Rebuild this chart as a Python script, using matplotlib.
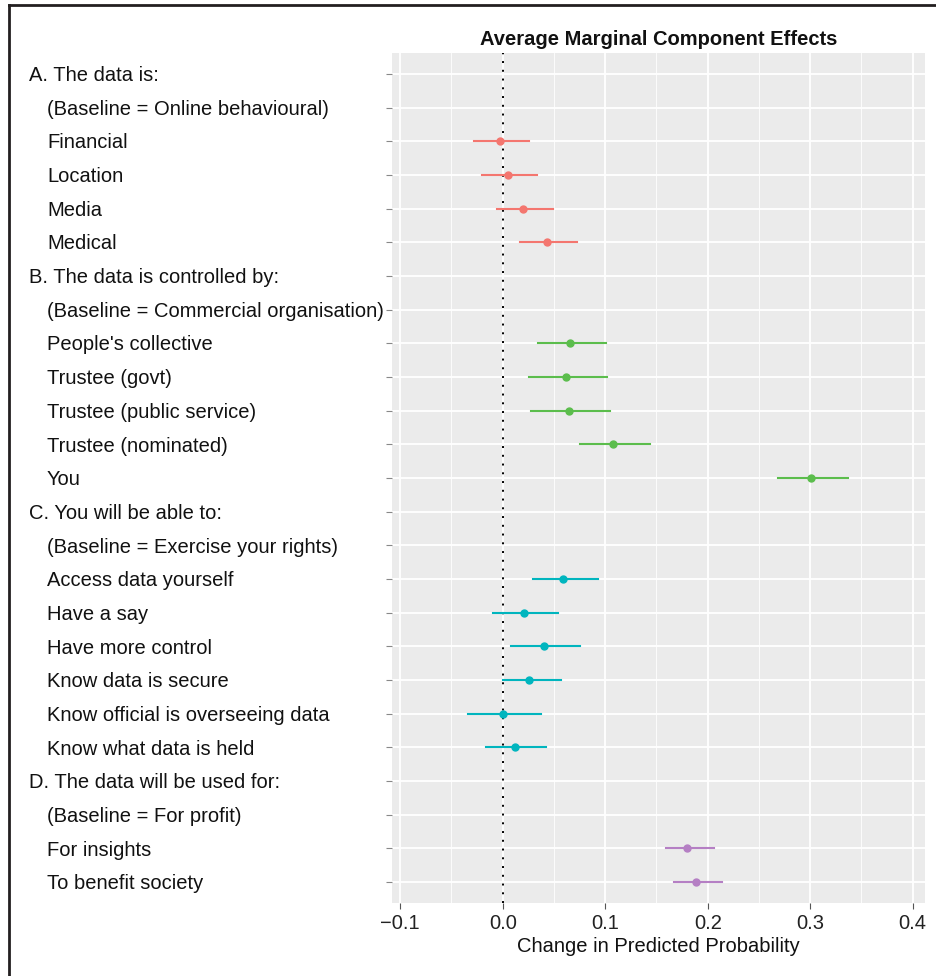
import matplotlib.pyplot as plt
import matplotlib.transforms as mtransforms
from matplotlib.lines import Line2D
import numpy as np

plt.rcParams['font.family'] = ['Liberation Sans', 'DejaVu Sans']

# rows top to bottom
labels = [
    "A. The data is:",
    "(Baseline = Online behavioural)",
    "Financial",
    "Location",
    "Media",
    "Medical",
    "B. The data is controlled by:",
    "(Baseline = Commercial organisation)",
    "People's collective",
    "Trustee (govt)",
    "Trustee (public service)",
    "Trustee (nominated)",
    "You",
    "C. You will be able to:",
    "(Baseline = Exercise your rights)",
    "Access data yourself",
    "Have a say",
    "Have more control",
    "Know data is secure",
    "Know official is overseeing data",
    "Know what data is held",
    "D. The data will be used for:",
    "(Baseline = For profit)",
    "For insights",
    "To benefit society",
]
headers = {0, 6, 13, 21}

# estimates
est_labels = ["Financial", "Location", "Media", "Medical",
              "People's collective", "Trustee (govt)", "Trustee (public service)",
              "Trustee (nominated)", "You",
              "Access data yourself", "Have a say", "Have more control",
              "Know data is secure", "Know official is overseeing data",
              "Know what data is held",
              "For insights", "To benefit society"]
amce = [-0.003, 0.005, 0.020, 0.043,
        0.066, 0.062, 0.065, 0.108, 0.301,
        0.059, 0.021, 0.040, 0.026, 0.000, 0.012,
        0.180, 0.189]
lower = [-0.028, -0.020, -0.006, 0.017,
         0.034, 0.026, 0.028, 0.075, 0.269,
         0.030, -0.009, 0.008, 0.000, -0.034, -0.016,
         0.159, 0.167]
upper = [0.026, 0.033, 0.049, 0.072,
         0.101, 0.102, 0.105, 0.144, 0.337,
         0.093, 0.054, 0.075, 0.057, 0.037, 0.042,
         0.206, 0.214]
group = [0, 0, 0, 0, 1, 1, 1, 1, 1, 2, 2, 2, 2, 2, 2, 3, 3]
colors = ['#F4766F', '#5BBD4C', '#00B5BE', '#B57FC4']

fs = 14.5

fig = plt.figure(figsize=(9.36, 9.76), dpi=100)
ax = fig.add_axes([392/936, 1 - 903/976, 533/936, 850/976])
ax.set_facecolor('#EBEBEB')
for s in ax.spines.values():
    s.set_visible(False)

ypos = np.arange(1, len(labels) + 1)
ax.set_ylim(len(labels) + 0.62, 0.38)
ax.set_xlim(-0.108, 0.412)

ax.set_xticks([-0.1, 0.0, 0.1, 0.2, 0.3, 0.4])
ax.set_xticklabels(['\u22120.1', '0.0', '0.1', '0.2', '0.3', '0.4'])
ax.set_xticks(np.arange(-0.05, 0.41, 0.1), minor=True)
ax.set_yticks(ypos)
ax.set_yticklabels([])
ax.grid(which='major', color='white', linewidth=1.3)
ax.grid(which='minor', axis='x', color='white', linewidth=0.6)
ax.set_axisbelow(True)
ax.tick_params(axis='both', which='major', length=4, width=0.8, color='#555555',
               labelsize=fs, labelcolor='#222222', pad=4)
ax.tick_params(axis='y', colors='#888888')
ax.tick_params(which='minor', length=0)

ax.axvline(0, color='black', linestyle=(0, (1, 3.5)), linewidth=1.4, zorder=2)

for lab, m, lo, hi, g in zip(est_labels, amce, lower, upper, group):
    y = labels.index(lab) + 1
    ax.plot([lo, hi], [y, y], color=colors[g], linewidth=1.5, zorder=3)
    ax.plot(m, y, 'o', color=colors[g], markersize=5, zorder=4)

trans = mtransforms.blended_transform_factory(fig.transFigure, ax.transData)
for i, lab in enumerate(labels):
    x = 29/936 if i in headers else 47/936
    ax.text(x, i + 1.05, lab, transform=trans, ha='left', va='center',
            fontsize=fs, color='#111111')

ax.set_xlabel('Change in Predicted Probability', fontsize=fs, color='#111111', labelpad=3)
ax.set_title('Average Marginal Component Effects', fontsize=fs, fontweight='bold',
             color='#111111', pad=6)

# partial frame at left and top
fig.add_artist(Line2D([9/936, 9/936], [0, 1 - 5/976], transform=fig.transFigure,
                      color='#231F20', linewidth=2))
fig.add_artist(Line2D([9/936, 1], [1 - 5/976, 1 - 5/976], transform=fig.transFigure,
                      color='#231F20', linewidth=2))

fig.savefig('out.png', dpi=100)
